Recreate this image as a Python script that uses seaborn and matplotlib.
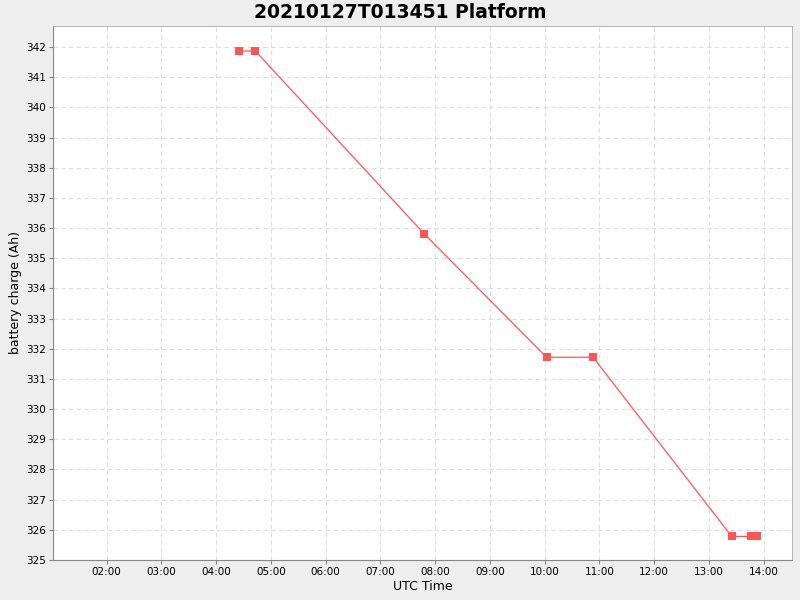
import matplotlib

matplotlib.use("Agg")
import matplotlib.dates as mdates
import matplotlib.pyplot as plt
import pandas as pd
import seaborn as sns

TITLE = "20210127T013451 Platform"
DAY = "2021-01-27"

times = ["04:25", "04:43", "07:48", "10:02", "10:53", "13:25", "13:46", "13:50", "13:53"]
charge_ah = [341.87, 341.87, 335.81, 331.72, 331.72, 325.78, 325.78, 325.78, 325.78]

X_START = "01:01"
X_END = "14:31"
Y_MIN, Y_MAX = 325.0, 342.7

LINE_COLOR = "#ff5555"


def main() -> None:
    df = pd.DataFrame(
        {
            "time": pd.to_datetime([f"{DAY} {t}" for t in times]),
            "charge": charge_ah,
        }
    )

    sns.set_style("white")
    plt.rcParams["font.family"] = ["DejaVu Sans"]
    plt.rcParams["text.color"] = "black"
    plt.rcParams["axes.labelcolor"] = "black"
    plt.rcParams["xtick.color"] = "black"
    plt.rcParams["ytick.color"] = "black"

    fig = plt.figure(figsize=(8, 6), dpi=100, facecolor="#eeeeee")
    ax = fig.add_axes([0.066, 0.0667, 0.924, 0.89])
    ax.set_facecolor("white")

    sns.lineplot(
        data=df,
        x="time",
        y="charge",
        ax=ax,
        color=LINE_COLOR,
        linewidth=0.9,
        marker="s",
        markersize=6,
        markeredgewidth=0,
        estimator=None,
        sort=False,
    )

    ax.set_xlim(pd.Timestamp(f"{DAY} {X_START}"), pd.Timestamp(f"{DAY} {X_END}"))
    ax.set_ylim(Y_MIN, Y_MAX)
    ax.xaxis.set_major_locator(mdates.HourLocator(byhour=range(2, 15)))
    ax.xaxis.set_major_formatter(mdates.DateFormatter("%H:%M"))
    ax.yaxis.set_major_locator(matplotlib.ticker.MultipleLocator(1))

    ax.grid(True, color="#dddddd", linestyle=(0, (4, 3)), linewidth=0.8)
    ax.tick_params(axis="both", labelsize=7.5, length=3, color="#888888",
                   labelcolor="black", bottom=True, left=True, pad=2)
    for side in ["left", "bottom"]:
        ax.spines[side].set_color("#888888")
    for side in ["top", "right"]:
        ax.spines[side].set_color("#aaaaaa")
        ax.spines[side].set_linewidth(0.6)

    ax.set_xlabel("UTC Time", fontsize=9, labelpad=2)
    ax.set_ylabel("battery charge (Ah)", fontsize=9, labelpad=3)
    fig.suptitle(TITLE, fontsize=13.5, fontweight="bold", y=0.995, color="black")

    fig.savefig("out.png", dpi=100, facecolor=fig.get_facecolor())
    plt.close(fig)


if __name__ == "__main__":
    main()
